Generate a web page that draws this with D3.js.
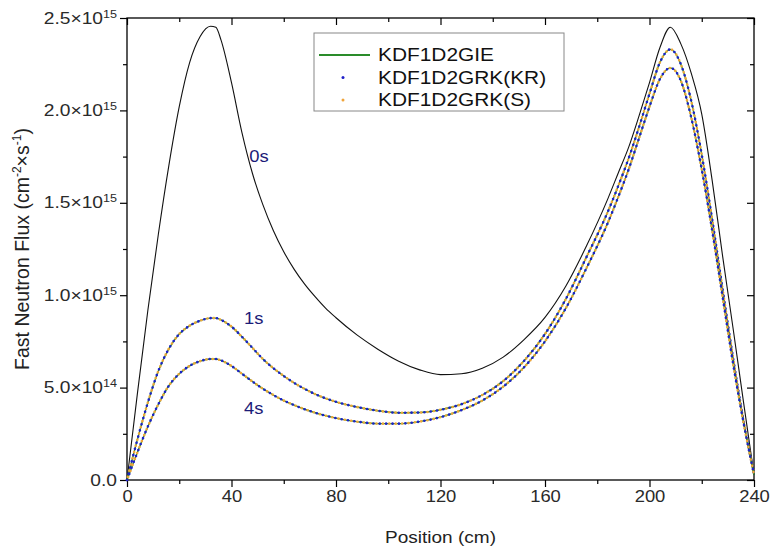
<!DOCTYPE html>
<html>
<head>
<meta charset="utf-8">
<script src="https://cdn.jsdelivr.net/npm/d3@7"></script>
<style>
body { margin: 0; background: #fff; }
svg { display: block; font-family: "Liberation Sans", Arial, sans-serif; }
</style>
</head>
<body>
<div id="chart"></div>
<script>
// position along the core (cm)
var positions = [0, 4, 8, 12, 16, 20, 24, 28, 32, 34, 36, 40, 44, 48, 52, 56, 60, 64, 68, 72, 76, 80,
  88, 96, 104, 112, 120, 128, 136, 144, 152, 160, 168, 176, 184, 188, 192, 196, 200, 204, 208,
  212, 216, 220, 224, 228, 232, 236, 240];

// fast neutron flux, in units of 1e15 cm^-2 s^-1
var flux0s = [0.0, 0.47, 0.92, 1.33, 1.70, 2.02, 2.26, 2.40, 2.455, 2.45, 2.38, 2.15, 1.88, 1.66, 1.49, 1.35,
  1.235, 1.14, 1.06, 0.992, 0.93, 0.878, 0.785, 0.708, 0.643, 0.596, 0.570, 0.575, 0.605, 0.665, 0.76, 0.88,
  1.05, 1.27, 1.52, 1.66, 1.80, 1.97, 2.15, 2.34, 2.45, 2.36, 2.20, 1.98, 1.62, 1.21, 0.82, 0.42, 0.03];
// 1s and 4s: GIE, GRK(KR) and GRK(S) lie on top of each other
var flux1s = [0.0, 0.22, 0.42, 0.59, 0.71, 0.79, 0.835, 0.862, 0.876, 0.876, 0.866, 0.83, 0.775, 0.715, 0.655,
  0.605, 0.563, 0.525, 0.493, 0.465, 0.442, 0.423, 0.395, 0.375, 0.364, 0.365, 0.38, 0.41, 0.46, 0.535,
  0.645, 0.79, 0.98, 1.21, 1.45, 1.59, 1.74, 1.91, 2.09, 2.26, 2.33, 2.25, 2.05, 1.76, 1.41, 1.03, 0.66, 0.32, 0.03];
var flux4s = [0.0, 0.15, 0.29, 0.41, 0.51, 0.575, 0.618, 0.643, 0.655, 0.655, 0.647, 0.617, 0.575, 0.533, 0.494,
  0.46, 0.43, 0.405, 0.383, 0.364, 0.348, 0.335, 0.316, 0.305, 0.305, 0.316, 0.34, 0.378, 0.43, 0.505,
  0.61, 0.75, 0.93, 1.15, 1.39, 1.53, 1.68, 1.85, 2.02, 2.17, 2.23, 2.16, 1.96, 1.68, 1.35, 0.99, 0.63, 0.31, 0.03];

var seriesNames = ['KDF1D2GIE', 'KDF1D2GRK(KR)', 'KDF1D2GRK(S)'];
var timeLabels = ['0s', '1s', '4s'];
var xTicks = [0, 40, 80, 120, 160, 200, 240];
var yTicks = [0, 0.5, 1.0, 1.5, 2.0, 2.5];

var width = 772, height = 551;
var margin = { top: 18, right: 18, bottom: 71, left: 127 };
var w = width - margin.left - margin.right;
var h = height - margin.top - margin.bottom;

var green = '#2a8c2a', blue = '#1f1fc8', orange = '#f0a43a', navy = '#1c1c78';

var svg = d3.select('#chart').append('svg').attr('width', width).attr('height', height);
var g = svg.append('g').attr('transform', 'translate(' + margin.left + ',' + margin.top + ')');

var x = d3.scaleLinear().domain([0, 240]).range([0, w]);
var y = d3.scaleLinear().domain([0, 2.5]).range([h, 0]);

var xMinor = d3.range(20, 240, 40);
var yMinor = d3.range(0.25, 2.5, 0.5);

// the picture's text is a little wider than the font, stretch it around its anchor
function stretch(sel, sx) {
  sel.each(function() {
    var t = d3.select(this);
    var ax = +t.attr('x') || 0, ay = +t.attr('y') || 0;
    t.attr('transform', 'translate(' + ax + ',' + ay + ') scale(' + sx + ',1) translate(' + (-ax) + ',' + (-ay) + ')');
  });
}

function styleAxis(sel) {
  sel.select('.domain').remove();
  sel.selectAll('.tick line').attr('stroke', '#000').attr('stroke-width', 1.2);
}

// bottom axis (ticks outside)
g.append('g').attr('transform', 'translate(0,' + h + ')')
  .call(d3.axisBottom(x).tickValues(xTicks).tickSize(7).tickPadding(4))
  .call(styleAxis)
  .selectAll('text').attr('font-size', 16).attr('fill', '#2a2a2a').attr('font-family', null)
  .call(stretch, 1.15);
g.append('g').attr('transform', 'translate(0,' + h + ')')
  .call(d3.axisBottom(x).tickValues(xMinor).tickSize(4).tickFormat(''))
  .call(styleAxis);

// left axis (ticks outside) with superscript labels
var left = g.append('g')
  .call(d3.axisLeft(y).tickValues(yTicks).tickSize(7).tickPadding(3))
  .call(styleAxis);
left.selectAll('.tick text').attr('font-size', 16).attr('fill', '#2a2a2a').attr('font-family', null)
  .text(null)
  .each(function(d) {
    var t = d3.select(this);
    if (d === 0) { t.text('0.0'); return; }
    var v = d * 1e15;
    var e = Math.floor(Math.log10(v) + 1e-9);
    var m = v / Math.pow(10, e);
    t.append('tspan').text(m.toFixed(1) + '×10');
    t.append('tspan').attr('font-size', 10.5).attr('dy', -6).text(e);
  })
  .call(stretch, 1.2);
g.append('g')
  .call(d3.axisLeft(y).tickValues(yMinor).tickSize(4).tickFormat(''))
  .call(styleAxis);

// top and right axes (ticks inside)
g.append('g').call(d3.axisBottom(x).tickValues(xTicks).tickSize(7).tickFormat('')).call(styleAxis);
g.append('g').call(d3.axisBottom(x).tickValues(xMinor).tickSize(4).tickFormat('')).call(styleAxis);
g.append('g').attr('transform', 'translate(' + w + ',0)')
  .call(d3.axisLeft(y).tickValues(yTicks).tickSize(7).tickFormat('')).call(styleAxis);
g.append('g').attr('transform', 'translate(' + w + ',0)')
  .call(d3.axisLeft(y).tickValues(yMinor).tickSize(4).tickFormat('')).call(styleAxis);

// frame
g.append('rect').attr('width', w).attr('height', h)
  .attr('fill', 'none').attr('stroke', '#000').attr('stroke-width', 1.3);

var line = d3.line()
  .x(function(d, i) { return x(positions[i]); })
  .y(function(d) { return y(d); })
  .curve(d3.curveMonotoneX);

// 0s initial state
g.append('path').attr('d', line(flux0s))
  .attr('fill', 'none').attr('stroke', '#111').attr('stroke-width', 1.1);

// transient results: GIE line, GRK(S) and GRK(KR) dots
[flux1s, flux4s].forEach(function(vals) {
  g.append('path').attr('d', line(vals))
    .attr('fill', 'none').attr('stroke', green).attr('stroke-width', 1.4);
  g.append('path').attr('d', line(vals))
    .attr('fill', 'none').attr('stroke', orange).attr('stroke-width', 2.6)
    .attr('stroke-linecap', 'round').attr('stroke-dasharray', '0 6.4').attr('stroke-dashoffset', -3.2);
  g.append('path').attr('d', line(vals))
    .attr('fill', 'none').attr('stroke', blue).attr('stroke-width', 2.6)
    .attr('stroke-linecap', 'round').attr('stroke-dasharray', '0 6.4');
});

// time labels
var labelPos = [[50.5, 1.75], [48.5, 0.875], [48.5, 0.39]];
timeLabels.forEach(function(t, i) {
  g.append('text').attr('x', x(labelPos[i][0])).attr('y', y(labelPos[i][1]))
    .attr('text-anchor', 'middle').attr('dy', '0.35em')
    .attr('font-size', 16).attr('fill', navy).text(t)
    .call(stretch, 1.15);
});

// axis titles
svg.append('text').attr('x', margin.left + w / 2).attr('y', 543)
  .attr('text-anchor', 'middle').attr('font-size', 17).attr('fill', '#222').text('Position (cm)')
  .call(stretch, 1.12);

var yt = svg.append('text').attr('transform', 'translate(29,' + (margin.top + h / 2) + ') rotate(-90)')
  .attr('text-anchor', 'middle').attr('font-size', 19.5).attr('fill', '#222');
yt.append('tspan').text('Fast Neutron Flux (cm');
yt.append('tspan').attr('font-size', 12).attr('dy', -8).text('-2');
yt.append('tspan').attr('dy', 8).text('×s');
yt.append('tspan').attr('font-size', 12).attr('dy', -8).text('-1');
yt.append('tspan').attr('dy', 8).text(')');

// legend
var lg = svg.append('g').attr('transform', 'translate(314,33)');
lg.append('rect').attr('width', 250).attr('height', 78)
  .attr('fill', '#fff').attr('stroke', '#888').attr('stroke-width', 1);
seriesNames.forEach(function(name, i) {
  var cy = 22 + i * 22.5;
  if (i === 0) {
    lg.append('line').attr('x1', 5).attr('x2', 56).attr('y1', cy).attr('y2', cy)
      .attr('stroke', green).attr('stroke-width', 2);
  } else {
    lg.append('circle').attr('cx', 29).attr('cy', cy).attr('r', 1.5)
      .attr('fill', i === 1 ? blue : orange);
  }
  lg.append('text').attr('x', 64).attr('y', cy).attr('dy', '0.36em')
    .attr('font-size', 18).attr('fill', '#111').text(name)
    .call(stretch, 1.16);
});
</script>
</body>
</html>
